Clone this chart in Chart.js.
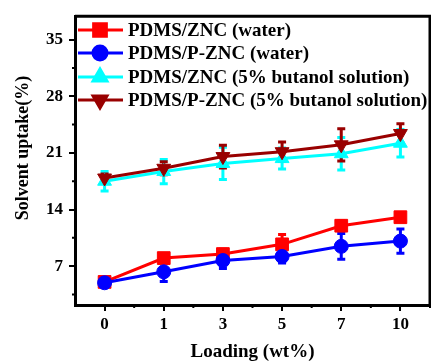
<!DOCTYPE html>
<html>
<head>
<meta charset="UTF-8" />
<script src="https://cdn.jsdelivr.net/npm/chart.js"></script>
<style>
  * { margin: 0; padding: 0; }
  html, body { width: 431px; height: 364px; overflow: hidden; background: #fff; }
  #wrap { width: 440px; height: 364px; }
</style>
</head>
<body>
<div id="wrap"><canvas id="chart" width="440" height="364"></canvas></div>
<script>
// data
const loadings = ["0", "1", "3", "5", "7", "10"];
const znWater = [5.05, 8.0, 8.5, 9.7, 12.0, 13.05];
const znWaterErr = [0.4, 0.5, 0.6, 1.2, 0.6, 0.5];
const pznWater = [4.95, 6.3, 7.7, 8.2, 9.45, 10.1];
const pznWaterErr = [0.4, 1.2, 1.0, 0.8, 1.6, 1.5];
const znButanol = [17.5, 18.7, 19.7, 20.3, 20.9, 22.2];
const znButanolErr = [1.2, 1.5, 2.0, 1.3, 2.0, 1.7];
const pznButanol = [17.9, 19.1, 20.55, 21.15, 22.0, 23.4];
const pznButanolErr = [0.5, 0.8, 1.4, 1.2, 2.0, 1.2];
const yTicks = [7, 14, 21, 28, 35];
const yMinor = [3.5, 10.5, 17.5, 24.5, 31.5];
const yTitle = "Solvent uptake(%)";

const serif = "'Liberation Serif', 'Times New Roman', serif";

const series = [
  { label: "PDMS/ZNC (water)", data: znWater, err: znWaterErr, color: "#ff0000", style: "rect", radius: 9, rot: 0, order: 3 },
  { label: "PDMS/P-ZNC (water)", data: pznWater, err: pznWaterErr, color: "#0000ff", style: "circle", radius: 7, rot: 0, order: 2 },
  { label: "PDMS/ZNC (5% butanol solution)", data: znButanol, err: znButanolErr, color: "#00ffff", style: "triangle", radius: 8, rot: 0, order: 1 },
  { label: "PDMS/P-ZNC (5% butanol solution)", data: pznButanol, err: pznButanolErr, color: "#990000", style: "triangle", radius: 8, rot: 180, order: 0 }
];

const extras = {
  id: "extras",
  beforeDatasetsDraw(chart) {
    const { ctx, scales: { x, y } } = chart;
    ctx.save();
    ctx.lineWidth = 3;
    series.forEach(s => {
      ctx.strokeStyle = s.color;
      s.data.forEach((v, i) => {
        const px = x.getPixelForValue(i);
        const top = y.getPixelForValue(v + s.err[i]);
        const bot = y.getPixelForValue(v - s.err[i]);
        ctx.beginPath();
        ctx.moveTo(px, top); ctx.lineTo(px, bot);
        ctx.moveTo(px - 4, top); ctx.lineTo(px + 4, top);
        ctx.moveTo(px - 4, bot); ctx.lineTo(px + 4, bot);
        ctx.stroke();
      });
    });
    ctx.restore();
  },
  afterDraw(chart) {
    const { ctx, chartArea: a, scales: { x, y } } = chart;
    ctx.save();
    // frame top and right
    ctx.strokeStyle = "#000";
    ctx.lineWidth = 3;
    ctx.beginPath();
    ctx.moveTo(a.left, a.top); ctx.lineTo(a.right, a.top); ctx.lineTo(a.right, a.bottom);
    ctx.stroke();
    // minor ticks
    ctx.lineWidth = 2;
    ctx.beginPath();
    yMinor.forEach(v => {
      const py = y.getPixelForValue(v);
      ctx.moveTo(a.left - 3, py); ctx.lineTo(a.left, py);
    });
    for (let i = 0; i < loadings.length; i++) {
      const px = x.getPixelForValue(i) + (x.getPixelForValue(1) - x.getPixelForValue(0)) / 2;
      ctx.moveTo(px, a.bottom); ctx.lineTo(px, a.bottom + 3);
    }
    ctx.stroke();
    // y title (sits a bit above the centre in the original)
    ctx.save();
    ctx.translate(23, 148);
    ctx.rotate(-Math.PI / 2);
    ctx.fillStyle = "#000";
    ctx.font = "bold 18px " + serif;
    ctx.textAlign = "center";
    ctx.textBaseline = "middle";
    ctx.fillText(yTitle, 0, 0);
    ctx.restore();
    // legend
    const rows = [30, 53, 77, 100];
    series.forEach((s, i) => {
      const ly = rows[i];
      ctx.strokeStyle = s.color;
      ctx.fillStyle = s.color;
      ctx.lineWidth = 3;
      ctx.beginPath();
      ctx.moveTo(78, ly); ctx.lineTo(123, ly);
      ctx.stroke();
      Chart.helpers.drawPoint(ctx, { pointStyle: s.style, radius: s.radius, rotation: s.rot, borderWidth: 1 }, 100, ly);
      ctx.fillStyle = "#000";
      ctx.font = "bold 19px " + serif;
      ctx.textBaseline = "middle";
      ctx.textAlign = "left";
      ctx.fillText(s.label, 128, ly + 1);
    });
    ctx.restore();
  }
};

new Chart(document.getElementById("chart"), {
  type: "line",
  data: {
    labels: loadings,
    datasets: series.map(s => ({
      label: s.label,
      data: s.data,
      borderColor: s.color,
      backgroundColor: s.color,
      borderWidth: 3,
      pointStyle: s.style,
      pointRadius: s.radius,
      pointRotation: s.rot,
      pointBorderWidth: 1,
      order: s.order
    }))
  },
  options: {
    responsive: false,
    animation: false,
    layout: { padding: { top: 13, right: 5, left: 0, bottom: 0 } },
    plugins: { legend: { display: false }, tooltip: { enabled: false } },
    scales: {
      x: {
        offset: true,
        afterFit(scale) { scale.height = 59; },
        border: { color: "#000", width: 3 },
        grid: { drawOnChartArea: false, color: "#000", lineWidth: 2, tickLength: 6 },
        ticks: { color: "#000", padding: 3, font: { family: serif, size: 17, weight: "bold" } },
        title: { display: true, text: "Loading (wt%)", color: "#000", padding: { top: 0, bottom: 1 },
                 font: { family: serif, size: 19, weight: "bold" } }
      },
      y: {
        min: 2.2,
        max: 37.9,
        afterFit(scale) { scale.width = 75; },
        afterBuildTicks(scale) { scale.ticks = yTicks.map(v => ({ value: v })); },
        border: { color: "#000", width: 3 },
        grid: { drawOnChartArea: false, color: "#000", lineWidth: 2, tickLength: 6 },
        ticks: { color: "#000", padding: 6, font: { family: serif, size: 17, weight: "bold" } }
      }
    }
  },
  plugins: [extras]
});
</script>
</body>
</html>
